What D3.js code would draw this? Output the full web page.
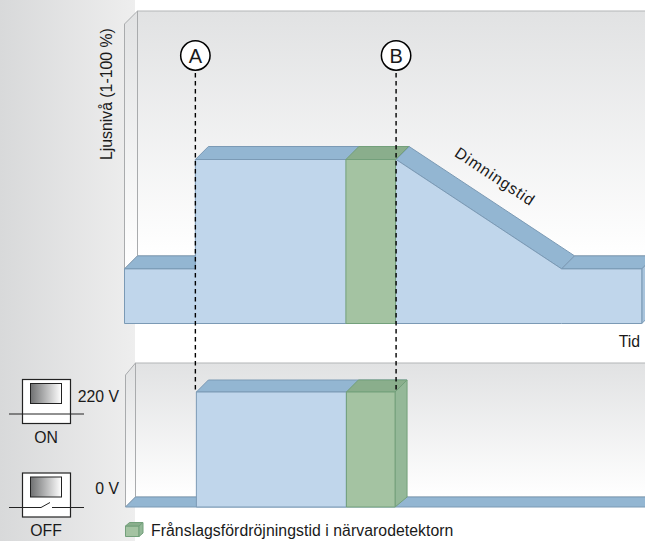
<!DOCTYPE html>
<html>
<head>
<meta charset="utf-8">
<script src="https://cdnjs.cloudflare.com/ajax/libs/d3/7.8.5/d3.min.js"></script>
<style>
  html, body { margin: 0; padding: 0; background: #fff; }
  text { font-family: "Liberation Sans", Arial, sans-serif; fill: #1a1a1a; }
</style>
</head>
<body>
<div id="svgcontainer"></div>
<script>
// Time in % of the x axis, light level in % of full level
const lightTime = [0, 13.7, 13.7, 52.5, 84.5, 100];
const lightLevel = [33.3, 33.3, 100, 100, 33.3, 33.3];
const voltTime = [0, 13.7, 13.7, 52.3, 52.3, 100];
const voltLevel = [0, 0, 220, 220, 0, 0];
const delayStart = 42.8;
const delayEnd = 52.4;
const markerNames = ["A", "B"];
const markerTimes = [13.7, 52.5];
const voltTicks = [220, 0];
const voltTickLabels = ["220 V", "0 V"];
const voltTickBaselines = [402, 494];
const switchLabels = ["ON", "OFF"];

const svgWidth = 645;
const svgHeight = 541;
const labelSize = 15.8;
const upper = { left: 124.5, right: 641.8, base: 323.5, high: 159.5, wallTop: 24, dx: 13, dy: 13 };
const lower = { left: 125.5, right: 645, base: 507, high: 392, wallTop: 375, dx: 12, dy: 12 };

const x = d3.scaleLinear().domain([0, 100]).range([upper.left, upper.right]);
const yTop = d3.scaleLinear().domain([0, 100]).range([upper.base, upper.high]);
const yLow = d3.scaleLinear().domain([0, 220]).range([lower.base, lower.high]);

const svg = d3
  .select("#svgcontainer")
  .append("svg")
  .attr("width", svgWidth)
  .attr("height", svgHeight)
  .style("display", "block");

// Gradients
const defs = svg.append("defs");
function gradient(id, horizontal, stops) {
  const grad = defs
    .append("linearGradient")
    .attr("id", id)
    .attr("x1", "0%")
    .attr("y1", "0%")
    .attr("x2", horizontal ? "100%" : "0%")
    .attr("y2", horizontal ? "0%" : "100%");
  stops.forEach((s, i) => {
    grad
      .append("stop")
      .attr("offset", (100 * i) / (stops.length - 1) + "%")
      .attr("stop-color", s);
  });
}
gradient("panelGrad", true, ["#d8d9da", "#eeeeee"]);
gradient("wallGrad", false, ["#e1e2e3", "#ffffff"]);
gradient("knobGrad", true, ["#6f7071", "#ffffff"]);

const line = d3.line();
function poly(points, fill, stroke) {
  return svg
    .append("path")
    .attr("d", line(points) + "Z")
    .attr("fill", fill)
    .attr("stroke", stroke)
    .attr("stroke-width", 1)
    .attr("stroke-linejoin", "round");
}

// Left grey panel
svg
  .append("rect")
  .attr("width", 135)
  .attr("height", svgHeight)
  .attr("fill", "url(#panelGrad)");

// Room walls behind both charts
function room(p) {
  const backX = p.left + p.dx;
  const backTop = p.wallTop - p.dy;
  const bottom = p.floorBack;
  svg
    .append("rect")
    .attr("x", backX)
    .attr("y", backTop)
    .attr("width", svgWidth - backX + 2)
    .attr("height", bottom - backTop)
    .attr("fill", "url(#wallGrad)")
    .attr("stroke", "#b4b6b8");
  poly(
    [
      [p.left, p.wallTop],
      [backX, backTop],
      [backX, bottom],
      [p.left, p.floorFront],
    ],
    "url(#wallGrad)",
    "#a9abad"
  );
}
room({ ...upper, floorBack: yTop(33.3) - upper.dy, floorFront: yTop(33.3) });
room({ ...lower, dx: 10, floorBack: lower.base - 10, floorFront: lower.base });

// Top chart: the profile's top faces, walked segment by segment
const blueTop = "#93b6d2";
const blueEdge = "#7b9ab5";
const blueFront = "#c0d6eb";
d3.pairs(d3.zip(lightTime, lightLevel)).forEach(([a, b]) => {
  if (a[0] === b[0]) return;
  const p0 = [x(a[0]), yTop(a[1])];
  const p1 = [x(b[0]), yTop(b[1])];
  poly(
    [p0, p1, [p1[0] + upper.dx, p1[1] - upper.dy], [p0[0] + upper.dx, p0[1] - upper.dy]],
    blueTop,
    blueEdge
  );
});
// Right sliver of the profile
poly(
  [
    [x(100), yTop(33.3)],
    [x(100) + upper.dx, yTop(33.3) - upper.dy],
    [x(100) + upper.dx, upper.base - upper.dy],
    [x(100), upper.base],
  ],
  "#a9c4dc",
  blueEdge
);

const area = d3
  .area()
  .x((d) => x(d[0]))
  .y0(upper.base)
  .y1((d) => yTop(d[1]));
svg
  .append("path")
  .attr("d", area(d3.zip(lightTime, lightLevel)))
  .attr("fill", blueFront)
  .attr("stroke", blueEdge);

// Green delay block, top chart
const greenFront = "#a4c3a2";
const greenTop = "#8aae8c";
const greenSide = "#94b898";
const greenEdge = "#73a07b";
poly(
  [
    [x(delayStart), yTop(100)],
    [x(delayEnd), yTop(100)],
    [x(delayEnd) + upper.dx, yTop(100) - upper.dy],
    [x(delayStart) + upper.dx, yTop(100) - upper.dy],
  ],
  greenTop,
  greenEdge
);
poly(
  [
    [x(delayStart), yTop(100)],
    [x(delayEnd), yTop(100)],
    [x(delayEnd), upper.base],
    [x(delayStart), upper.base],
  ],
  greenFront,
  greenEdge
);

// Lower chart: floor strip, bar and green block
poly(
  [
    [lower.left, lower.base],
    [lower.left + 10, lower.base - 10],
    [svgWidth + 2, lower.base - 10],
    [svgWidth + 2, lower.base],
  ],
  blueTop,
  blueEdge
);
const barStart = voltTime[1];
const barEnd = voltTime[3];
const barLevel = voltLevel[2];
poly(
  [
    [x(barStart) + 1, yLow(barLevel)],
    [x(barEnd), yLow(barLevel)],
    [x(barEnd) + lower.dx, yLow(barLevel) - lower.dy],
    [x(barStart) + 1 + lower.dx, yLow(barLevel) - lower.dy],
  ],
  blueTop,
  blueEdge
);
poly(
  [
    [x(barStart) + 1, yLow(barLevel)],
    [x(delayStart) + 0.5, yLow(barLevel)],
    [x(delayStart) + 0.5, lower.base],
    [x(barStart) + 1, lower.base],
  ],
  blueFront,
  blueEdge
);
poly(
  [
    [x(delayStart) + 0.5, yLow(barLevel)],
    [x(barEnd), yLow(barLevel)],
    [x(barEnd) + lower.dx, yLow(barLevel) - lower.dy],
    [x(delayStart) + 0.5 + lower.dx, yLow(barLevel) - lower.dy],
  ],
  greenTop,
  greenEdge
);
poly(
  [
    [x(barEnd), yLow(barLevel)],
    [x(barEnd) + lower.dx, yLow(barLevel) - lower.dy],
    [x(barEnd) + lower.dx, lower.base - 10],
    [x(barEnd), lower.base],
  ],
  greenSide,
  greenEdge
);
poly(
  [
    [x(delayStart) + 0.5, yLow(barLevel)],
    [x(barEnd), yLow(barLevel)],
    [x(barEnd), lower.base],
    [x(delayStart) + 0.5, lower.base],
  ],
  greenFront,
  greenEdge
);

// Dashed markers and their circles
markerTimes.forEach((t, i) => {
  const mx = x(t);
  svg
    .append("line")
    .attr("x1", mx)
    .attr("x2", mx)
    .attr("y1", 73)
    .attr("y2", yLow(barLevel))
    .attr("stroke", "#000")
    .attr("stroke-width", 1.4)
    .attr("stroke-dasharray", "4.5 3.5");
  svg
    .append("circle")
    .attr("cx", mx)
    .attr("cy", 55.5)
    .attr("r", 14.7)
    .attr("fill", "#fff")
    .attr("stroke", "#000")
    .attr("stroke-width", 1.5);
  svg
    .append("text")
    .attr("x", mx)
    .attr("y", 62.5)
    .attr("text-anchor", "middle")
    .attr("font-size", 20)
    .text(markerNames[i]);
});

// Axis texts
svg
  .append("text")
  .attr("transform", "translate(112,160) rotate(-90)")
  .attr("font-size", labelSize)
  .text("Ljusnivå (1-100 %)");
svg
  .append("text")
  .attr("x", 640)
  .attr("y", 347)
  .attr("text-anchor", "end")
  .attr("font-size", labelSize)
  .text("Tid");
const slope = (Math.atan2(yTop(33.3) - yTop(100), x(84.5) - x(52.5)) * 180) / Math.PI;
svg
  .append("text")
  .attr("transform", `translate(492,181) rotate(${slope})`)
  .attr("text-anchor", "middle")
  .attr("font-size", labelSize)
  .attr("letter-spacing", 0.9)
  .text("Dimningstid");

voltTicks.forEach((v, i) => {
  svg
    .append("text")
    .attr("x", 119)
    .attr("y", voltTickBaselines[i])
    .attr("text-anchor", "end")
    .attr("font-size", labelSize)
    .text(voltTickLabels[i]);
});

// Switch symbols
const switchTops = [379.5, 473];
switchTops.forEach((sy, i) => {
  svg
    .append("rect")
    .attr("x", 22.5)
    .attr("y", sy)
    .attr("width", 48)
    .attr("height", 44)
    .attr("fill", "#fff")
    .attr("stroke", "#222")
    .attr("stroke-width", 1.2);
  svg
    .append("rect")
    .attr("x", 30.5)
    .attr("y", sy + 4)
    .attr("width", 31)
    .attr("height", 20)
    .attr("fill", "url(#knobGrad)")
    .attr("stroke", "#222");
  const wireY = sy + 34.5;
  const wire = i === 0
    ? [[[9, wireY], [84, wireY]]]
    : [
        [[9, wireY], [41, wireY]],
        [[41, wireY], [50, wireY - 5]],
        [[52, wireY], [84, wireY]],
      ];
  wire.forEach((seg) => {
    svg
      .append("path")
      .attr("d", line(seg))
      .attr("fill", "none")
      .attr("stroke", "#222")
      .attr("stroke-width", 1);
  });
  svg
    .append("text")
    .attr("x", 46)
    .attr("y", sy + 63)
    .attr("text-anchor", "middle")
    .attr("font-size", labelSize)
    .text(switchLabels[i]);
});

// Legend
poly([[125.5, 526], [139, 526], [139, 536.5], [125.5, 536.5]], greenFront, greenEdge);
poly([[125.5, 526], [129.5, 522.5], [143, 522.5], [139, 526]], greenTop, greenEdge);
poly([[139, 526], [143, 522.5], [143, 533], [139, 536.5]], greenSide, greenEdge);
svg
  .append("text")
  .attr("x", 151)
  .attr("y", 535.5)
  .attr("font-size", labelSize)
  .attr("letter-spacing", 0.05)
  .text("Frånslagsfördröjningstid i närvarodetektorn");
</script>
</body>
</html>
